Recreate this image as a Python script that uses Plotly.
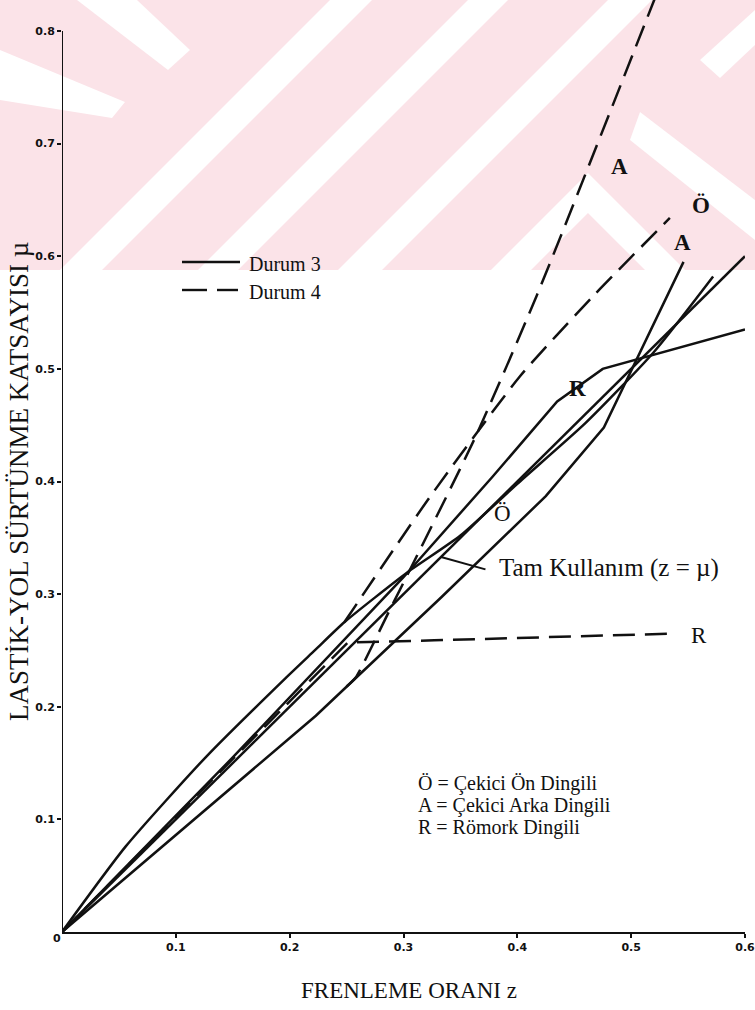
import plotly.graph_objects as go

# ---- data: braking ratio z vs. required tyre-road friction mu ----
# Durum 3 (solid lines)
tam_z = [0.0, 0.6]
tam_mu = [0.0, 0.6]
o3_z = [0.0, 0.056, 0.127, 0.196, 0.222, 0.248, 0.303, 0.35, 0.40, 0.46, 0.52, 0.572]
o3_mu = [0.0, 0.076, 0.156, 0.225, 0.250, 0.275, 0.319, 0.352, 0.398, 0.452, 0.515, 0.582]
a3_z = [0.0, 0.223, 0.333, 0.425, 0.476, 0.546]
a3_mu = [0.0, 0.192, 0.297, 0.387, 0.448, 0.595]
r3_z = [0.0, 0.15, 0.30, 0.378, 0.435, 0.475, 0.6]
r3_mu = [0.0, 0.155, 0.315, 0.404, 0.471, 0.500, 0.535]
# Durum 4 (dashed lines)
o4_z = [0.248, 0.323, 0.402, 0.467, 0.534]
o4_mu = [0.275, 0.386, 0.493, 0.565, 0.634]
a4_z = [0.25, 0.258, 0.286, 0.362, 0.417, 0.522]
a4_mu = [0.218, 0.226, 0.282, 0.437, 0.565, 0.832]
r4_z = [0.0, 0.251, 0.327, 0.54]
r4_mu = [0.0, 0.257, 0.259, 0.265]

x_ticks = [0.1, 0.2, 0.3, 0.4, 0.5, 0.6]
y_ticks = [0.1, 0.2, 0.3, 0.4, 0.5, 0.6, 0.7, 0.8]

INK = "#111111"
SERIF = "Liberation Serif"
TICKFONT = dict(family="DejaVu Sans", size=11, color=INK)

# figure / plot-area geometry in pixels
W, H = 755, 1010
L, R, T, B = 62, 10, 0, 78
PW, PH = W - L - R, H - T - B
Y_TOP = 0.8 * PH / (PH - 31)   # 0.8 sits 31 px below the top edge


def px(x):
    return (x - L) / PW


def py(y):
    return (H - B - y) / PH


fig = go.Figure()

solid = dict(color=INK, width=2.5)
dashed = dict(color=INK, width=2.5, dash="22px,10px")

# smooth curves use a light spline; kinked ones stay piecewise linear
curves = [
    (tam_z, tam_mu, solid, "linear"),
    (o3_z, o3_mu, solid, "spline"),
    (a3_z, a3_mu, solid, "linear"),
    (r3_z, r3_mu, solid, "linear"),
    (o4_z, o4_mu, dashed, "spline"),
    (a4_z, a4_mu, dashed, "spline"),
    (r4_z, r4_mu, dashed, "linear"),
]
for zs, ms, style, shape in curves:
    fig.add_trace(go.Scatter(x=zs, y=ms, mode="lines",
                             line=dict(style, shape=shape, smoothing=0.6),
                             showlegend=False, hoverinfo="skip"))

# ---- background emblem: pale pink band with white diagonal stripes ----
PINK = "#fbe3e8"
shapes = [dict(type="rect", xref="paper", yref="paper", x0=px(0), x1=px(W),
               y0=py(270), y1=py(0), fillcolor=PINK, line_width=0, layer="below")]


def poly(points):
    path = "M " + " L ".join(f"{px(a):.4f},{py(b):.4f}" for a, b in points) + " Z"
    return dict(type="path", xref="paper", yref="paper", path=path,
                fillcolor="white", line_width=0, layer="below")


stripes = [
    [(77, 0), (137, 0), (190, 50), (168, 70)],
    [(0, 50), (0, 100), (112, 118), (125, 102)],
    [(330, 0), (372, 0), (102, 270), (60, 270)],
    [(468, 0), (508, 0), (238, 270), (198, 270)],
    [(608, 0), (652, 0), (382, 270), (338, 270)],
    [(588, 173), (685, 270), (645, 270), (588, 213), (531, 270), (491, 270)],
    [(640, 112), (755, 200), (755, 240), (630, 140)],
    [(700, 60), (755, 10), (755, 45), (720, 78)],
]
shapes += [poly(s) for s in stripes]

# y axis line (ends at 0.8)
shapes.append(dict(type="line", xref="x", yref="y", x0=0, x1=0, y0=0, y1=0.8,
                   line=dict(color=INK, width=2)))

# pointer to the z = mu line
shapes.append(dict(type="line", xref="x", yref="y", x0=0.333, y0=0.333,
                   x1=0.372, y1=0.322, line=dict(color=INK, width=2)))

# legend samples
shapes.append(dict(type="line", xref="paper", yref="paper", x0=px(182), x1=px(240),
                   y0=py(262), y1=py(262), line=dict(color=INK, width=2.4)))
shapes.append(dict(type="line", xref="paper", yref="paper", x0=px(182), x1=px(207),
                   y0=py(290), y1=py(290), line=dict(color=INK, width=2.4)))
shapes.append(dict(type="line", xref="paper", yref="paper", x0=px(217), x1=px(238),
                   y0=py(290), y1=py(290), line=dict(color=INK, width=2.4)))

ann = []


def label(x, y, text, size=19, xanchor="center", ref="data"):
    ann.append(dict(x=x, y=y, text=text, showarrow=False,
                    xref="x" if ref == "data" else "paper",
                    yref="y" if ref == "data" else "paper",
                    xanchor=xanchor, yanchor="middle",
                    font=dict(family=SERIF, size=size, color=INK)))


# curve labels
label(0.490, 0.680, "<b>A</b>", size=23)
label(0.561, 0.645, "<b>Ö</b>", size=23)
label(0.545, 0.612, "<b>A</b>", size=23)
label(0.453, 0.483, "<b>R</b>", size=23)
label(0.387, 0.372, "Ö", size=23)
label(0.560, 0.263, "R", size=23)
label(0.382, 0.323, "Tam Kullanım (z = µ)", size=25, xanchor="left")

# legend texts
label(px(247), py(264), "Durum 3", size=20, xanchor="left", ref="paper")
label(px(247), py(292), "Durum 4", size=20, xanchor="left", ref="paper")

# abbreviations
label(px(416), py(783), "Ö = Çekici Ön Dingili", size=20, xanchor="left", ref="paper")
label(px(416), py(805), "A = Çekici Arka Dingili", size=20, xanchor="left", ref="paper")
label(px(416), py(827), "R = Römork Dingili", size=20, xanchor="left", ref="paper")

# axis titles
label(px(409), py(990), "FRENLEME ORANI z", size=23, ref="paper")
ann.append(dict(x=px(19), y=py(482), xref="paper", yref="paper",
                xanchor="center", yanchor="middle",
                text="LASTİK-YOL SÜRTÜNME KATSAYISI µ", showarrow=False,
                textangle=-90, font=dict(family=SERIF, size=27, color=INK)))
# origin label
ann.append(dict(x=px(51), y=py(947), xref="paper", yref="paper", text="<b>0</b>",
                showarrow=False, font=TICKFONT))

fig.update_layout(
    width=W, height=H,
    margin=dict(l=L, r=R, t=T, b=B),
    paper_bgcolor="white", plot_bgcolor="rgba(0,0,0,0)",
    shapes=shapes, annotations=ann,
    xaxis=dict(range=[0, 0.6], tickvals=x_ticks,
               ticktext=[f"<b>{v:.1f}</b>" for v in x_ticks],
               ticklabeloverflow="allow",
               showgrid=False, zeroline=False, showline=True, linecolor=INK,
               linewidth=2, ticks="outside", ticklen=4, tickwidth=1.5,
               tickcolor=INK, tickfont=TICKFONT),
    yaxis=dict(range=[0, Y_TOP], tickvals=y_ticks,
               ticktext=[f"<b>{v:.1f}</b>" for v in y_ticks],
               ticklabeloverflow="allow",
               showgrid=False, zeroline=False, showline=False,
               ticks="outside", ticklen=4, tickwidth=1.5,
               tickcolor=INK, tickfont=TICKFONT),
)

fig.write_html("out.html")
